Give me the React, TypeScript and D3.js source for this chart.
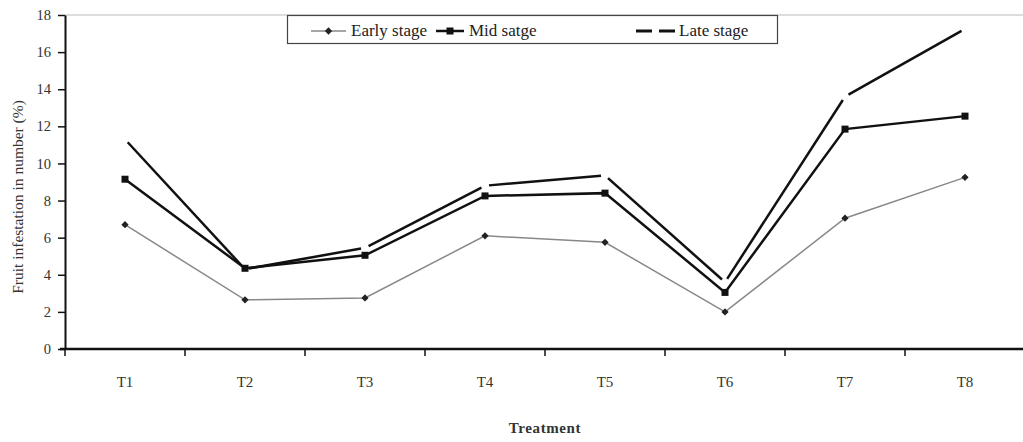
import React, { useEffect, useRef } from 'react';
import * as d3 from 'd3';

const treatments = ['T1', 'T2', 'T3', 'T4', 'T5', 'T6', 'T7', 'T8'];
const earlyStage = [6.7, 2.65, 2.75, 6.1, 5.75, 2.0, 7.05, 9.25];
const midStage = [9.15, 4.35, 5.05, 8.25, 8.4, 3.05, 11.85, 12.55];
const lateStage = [11.3, 4.3, 5.45, 8.8, 9.35, 3.6, 13.6, 17.25];
const yTicks = [0, 2, 4, 6, 8, 10, 12, 14, 16, 18];
const legendLabels = ['Early stage', 'Mid satge', 'Late stage'];

const FONT = '"Liberation Serif", "DejaVu Serif", serif';

const App = () => {
    const ref = useRef<SVGSVGElement | null>(null);

    useEffect(() => {
        const svg = d3.select(ref.current);
        svg.selectAll('*').remove();

        const left = 65, right = 1025, top = 15, bottom = 349;

        const x = d3.scaleBand().domain(treatments).range([left, right]);
        const y = d3.scaleLinear().domain([0, 18]).range([bottom, top]);
        const cx = (t: string) => (x(t) as number) + x.bandwidth() / 2;
        const diamond = d3.symbol(d3.symbolDiamond2, 34);

        // top border of plot area
        svg.append('line')
            .attr('x1', left).attr('x2', 1023)
            .attr('y1', top).attr('y2', top)
            .attr('stroke', '#bbb').attr('stroke-width', 1);

        // y axis
        const yAxis = svg.append('g')
            .attr('transform', `translate(${left},0)`)
            .call(d3.axisLeft(y).tickValues(yTicks).tickSize(7).tickSizeOuter(0));
        yAxis.select('.domain').attr('stroke', '#111').attr('stroke-width', 2);
        yAxis.selectAll('.tick line').attr('stroke', '#111').attr('stroke-width', 1.5);
        yAxis.selectAll('text')
            .attr('font-family', FONT).attr('font-size', 14.5).attr('fill', '#333')
            .attr('x', -14);

        // x axis
        const xAxis = svg.append('g')
            .attr('transform', `translate(0,${bottom})`)
            .call(d3.axisBottom(x).tickSize(0).tickSizeOuter(0));
        xAxis.select('.domain').remove();
        xAxis.selectAll('text')
            .attr('font-family', FONT).attr('font-size', 15).attr('fill', '#333')
            .attr('dy', 0).attr('y', 38);
        svg.append('line')
            .attr('x1', left - 5).attr('x2', 1023)
            .attr('y1', bottom).attr('y2', bottom)
            .attr('stroke', '#111').attr('stroke-width', 2.5);
        svg.append('g').selectAll('line')
            .data(treatments)
            .enter()
            .append('line')
            .attr('x1', d => x(d) as number).attr('x2', d => x(d) as number)
            .attr('y1', bottom).attr('y2', bottom + 7)
            .attr('stroke', '#111').attr('stroke-width', 1.5);

        // axis titles
        svg.append('text')
            .attr('transform', `translate(23,197) rotate(-90)`)
            .attr('text-anchor', 'middle')
            .attr('font-family', FONT).attr('font-size', 15.5).attr('fill', '#333')
            .text('Fruit infestation in number (%)');
        svg.append('text')
            .attr('x', 545).attr('y', 433)
            .attr('text-anchor', 'middle')
            .attr('font-family', FONT).attr('font-size', 15).attr('font-weight', 'bold')
            .attr('letter-spacing', 0.6).attr('fill', '#333')
            .text('Treatment');

        const line = d3.line<number>()
            .x((d, i) => cx(treatments[i]))
            .y(d => y(d));

        // late stage: dashed, with gaps at each point
        const gap = 4;
        const segs = d3.pairs(lateStage.map((v, i) => [cx(treatments[i]), y(v)]));
        svg.append('g').selectAll('line')
            .data(segs)
            .enter()
            .append('line')
            .each(function ([a, b]) {
                const dx = b[0] - a[0], dy = b[1] - a[1];
                const len = Math.hypot(dx, dy);
                const ux = dx / len, uy = dy / len;
                d3.select(this)
                    .attr('x1', a[0] + ux * gap).attr('y1', a[1] + uy * gap)
                    .attr('x2', b[0] - ux * gap).attr('y2', b[1] - uy * gap);
            })
            .attr('stroke', '#111').attr('stroke-width', 2.5);

        // mid stage
        svg.append('path')
            .datum(midStage)
            .attr('d', line)
            .attr('fill', 'none').attr('stroke', '#111').attr('stroke-width', 2.5);
        svg.append('g').selectAll('rect')
            .data(midStage)
            .enter()
            .append('rect')
            .attr('x', (d, i) => cx(treatments[i]) - 3.5)
            .attr('y', d => y(d) - 3.5)
            .attr('width', 7).attr('height', 7)
            .attr('fill', '#111');

        // early stage
        svg.append('path')
            .datum(earlyStage)
            .attr('d', line)
            .attr('fill', 'none').attr('stroke', '#888').attr('stroke-width', 1.5);
        svg.append('g').selectAll('path')
            .data(earlyStage)
            .enter()
            .append('path')
            .attr('d', diamond)
            .attr('transform', (d, i) => `translate(${cx(treatments[i])},${y(d)})`)
            .attr('fill', '#222');

        // legend
        const lg = svg.append('g');
        lg.append('rect')
            .attr('x', 287.5).attr('y', 15.5).attr('width', 490).attr('height', 28)
            .attr('fill', '#fff').attr('stroke', '#444').attr('stroke-width', 1.2);
        const ly = 31;
        lg.append('line').attr('x1', 311).attr('x2', 346).attr('y1', ly).attr('y2', ly)
            .attr('stroke', '#888').attr('stroke-width', 1.5);
        lg.append('path').attr('d', diamond)
            .attr('transform', `translate(328.5,${ly})`).attr('fill', '#222');
        lg.append('line').attr('x1', 436).attr('x2', 464).attr('y1', ly).attr('y2', ly)
            .attr('stroke', '#111').attr('stroke-width', 2.5);
        lg.append('rect').attr('x', 446.5).attr('y', ly - 3.5).attr('width', 7).attr('height', 7)
            .attr('fill', '#111');
        lg.append('line').attr('x1', 636).attr('x2', 675).attr('y1', ly).attr('y2', ly)
            .attr('stroke', '#111').attr('stroke-width', 3).attr('stroke-dasharray', '16,7');
        const textX = [351, 469, 679];
        lg.selectAll('text')
            .data(legendLabels)
            .enter()
            .append('text')
            .attr('x', (d, i) => textX[i]).attr('y', ly + 5)
            .attr('font-family', FONT).attr('font-size', 17).attr('fill', '#222')
            .text(d => d);
    }, []);

    return (
        <svg ref={ref} width={1023} height={442}
            style={{ position: 'absolute', left: 0, top: 0, background: '#fff' }}></svg>
    );
};

export default App;
